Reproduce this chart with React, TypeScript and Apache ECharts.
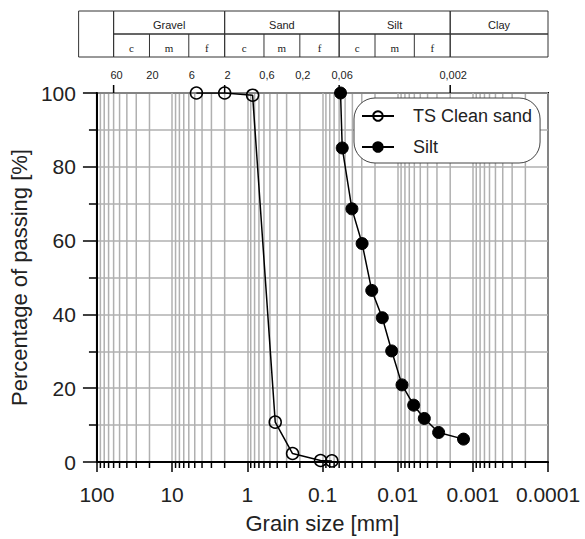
import React, { useEffect, useRef } from "react";
import * as echarts from "echarts";

// ---- data ----
const xTickLabels = ["100", "10", "1", "0.1", "0.01", "0.001", "0.0001"];
const sandSize = [4.75, 2, 0.85, 0.425, 0.25, 0.106, 0.075];
const sandPass = [100, 100, 99.4, 10.8, 2.3, 0.4, 0.3];
const siltSize = [0.0575, 0.0546, 0.0406, 0.0297, 0.0221, 0.016, 0.012, 0.00875, 0.00612, 0.00442, 0.00285, 0.00133];
const siltPass = [100, 85.1, 68.6, 59.2, 46.5, 39.1, 30.1, 20.9, 15.4, 11.8, 8.0, 6.2];

const topTickValues = [60, 20, 6, 2, 0.6, 0.2, 0.06, 0.002];
const topTickLabels = ["60", "20", "6", "2", "0,6", "0,2", "0,06", "0,002"];
const topTickMarks = [60, 2, 0.06, 0.002];

const classBounds = [60, 2, 0.06, 0.002, 0.0001];
const classNames = ["Gravel", "Sand", "Silt", "Clay"];
const subBounds = [
  [60, 20, 6, 2],
  [2, 0.6, 0.2, 0.06],
  [0.06, 0.02, 0.006, 0.002],
  [],
];
const subNames = ["c", "m", "f"];

const decadeExps = [-4, -3, -2, -1, 0, 1];
const minorMultipliers = [2, 3, 4, 5, 6, 7, 8, 9];

const FONT = '"Liberation Sans", Arial, sans-serif';
const SERIF = '"Liberation Serif", "Times New Roman", serif';

export default function App() {
  const ref = useRef<HTMLDivElement>(null);

  useEffect(() => {
    if (!ref.current) return;
    const chart = echarts.init(ref.current, undefined, { renderer: "svg" });

    const minorValues: number[][] = [];
    decadeExps.forEach((e) => {
      minorMultipliers.forEach((m) => {
        minorValues.push([m * Math.pow(10, e), 50]);
      });
    });

    const gridRender = (_params: any, api: any) => {
      const v = api.value(0);
      const p0 = api.coord([v, 0]);
      const p1 = api.coord([v, 100]);
      return {
        type: "group",
        children: [
          {
            type: "line",
            shape: { x1: p0[0], y1: p1[1] + 1, x2: p0[0], y2: p0[1] - 1 },
            style: { stroke: "#b0b0b0", lineWidth: 1.5 },
          },
          {
            type: "line",
            shape: { x1: p0[0], y1: p0[1], x2: p0[0], y2: p0[1] + 6 },
            style: { stroke: "#000", lineWidth: 1.5 },
          },
        ],
      };
    };

    const topRender = (_params: any, api: any) => {
      const X = (v: number) => api.coord([v, 100])[0];
      const yTop = api.coord([1, 100])[1];
      const rowTop = 11;
      const rowMid = 34;
      const rowBot = 57;
      const children: any[] = [];
      const x60 = X(classBounds[0]);
      children.push({
        type: "rect",
        shape: { x: x60 - 35, y: rowTop, width: 35, height: rowBot - rowTop },
        style: { fill: "none", stroke: "#333", lineWidth: 1 },
      });
      for (let i = 0; i < classNames.length; i++) {
        const x0 = X(classBounds[i]);
        const x1 = X(classBounds[i + 1]);
        children.push({
          type: "rect",
          shape: { x: x0, y: rowTop, width: x1 - x0, height: rowMid - rowTop },
          style: { fill: "none", stroke: "#333", lineWidth: 1 },
        });
        children.push({
          type: "rect",
          shape: { x: x0, y: rowMid, width: x1 - x0, height: rowBot - rowMid },
          style: { fill: "none", stroke: "#333", lineWidth: 1 },
        });
        children.push({
          type: "text",
          style: {
            text: classNames[i],
            x: (x0 + x1) / 2,
            y: 25,
            align: "center",
            verticalAlign: "middle",
            font: `11px ${FONT}`,
            fill: "#222",
          },
        });
        const sb = subBounds[i];
        for (let j = 0; j + 1 < sb.length; j++) {
          const s0 = X(sb[j]);
          const s1 = X(sb[j + 1]);
          if (j > 0) {
            children.push({
              type: "line",
              shape: { x1: s0, y1: rowMid, x2: s0, y2: rowBot },
              style: { stroke: "#333", lineWidth: 1 },
            });
          }
          children.push({
            type: "text",
            style: {
              text: subNames[j],
              x: (s0 + s1) / 2,
              y: 48,
              align: "center",
              verticalAlign: "middle",
              font: `11px ${SERIF}`,
              fill: "#222",
            },
          });
        }
      }
      topTickMarks.forEach((v) => {
        const x = X(v);
        children.push({
          type: "line",
          shape: { x1: x, y1: yTop, x2: x, y2: yTop - 8 },
          style: { stroke: "#000", lineWidth: 1.5 },
        });
      });
      topTickValues.forEach((v, i) => {
        children.push({
          type: "text",
          style: {
            text: topTickLabels[i],
            x: X(v) + 3,
            y: 75,
            align: "center",
            verticalAlign: "middle",
            font: `11px ${FONT}`,
            fill: "#222",
          },
        });
      });
      return { type: "group", children };
    };

    const option: any = {
      animation: false,
      backgroundColor: "#fff",
      grid: {
        left: 95,
        right: 37,
        top: 93,
        bottom: 76,
        show: true,
        borderColor: "#000",
        borderWidth: 2,
        containLabel: false,
      },
      legend: {
        orient: "vertical",
        left: 354,
        top: 98,
        data: ["TS Clean sand", "Silt"],
        itemWidth: 32,
        itemHeight: 12,
        itemGap: 13,
        padding: [9, 8, 7, 7],
        borderColor: "#444",
        borderWidth: 1,
        borderRadius: 21,
        backgroundColor: "#fff",
        textStyle: { fontSize: 18, fontFamily: FONT, color: "#222", padding: [0, 0, 0, 14] },
      },
      xAxis: {
        type: "log",
        logBase: 10,
        min: 0.0001,
        max: 100,
        inverse: true,
        name: "Grain size [mm]",
        nameLocation: "middle",
        nameGap: 50,
        nameTextStyle: { fontSize: 22, fontFamily: FONT, color: "#222" },
        axisLine: { show: true, lineStyle: { color: "#000", width: 2 } },
        axisTick: { show: true, length: 10, lineStyle: { color: "#000", width: 1.5 } },
        axisLabel: {
          show: true,
          interval: 0,
          showMinLabel: true,
          showMaxLabel: true,
          margin: 22,
          fontSize: 21,
          fontFamily: FONT,
          color: "#222",
          formatter: (v: number) => {
            const e = Math.round(Math.log10(v));
            return xTickLabels[2 - e] ?? "";
          },
        },
        splitLine: { show: true, lineStyle: { color: "#b0b0b0", width: 1.5 } },
      },
      yAxis: {
        type: "value",
        min: 0,
        max: 100,
        interval: 20,
        name: "Percentage of passing [%]",
        nameLocation: "middle",
        nameGap: 62,
        nameTextStyle: { fontSize: 22, fontFamily: FONT, color: "#222" },
        axisLine: { show: true, lineStyle: { color: "#000", width: 2 } },
        axisTick: { show: true, length: 14, lineStyle: { color: "#000", width: 1.5 } },
        minorTick: { show: true, splitNumber: 2, length: 8, lineStyle: { color: "#000", width: 1.5 } },
        axisLabel: { margin: 21, fontSize: 21, fontFamily: FONT, color: "#222" },
        splitLine: { show: true, lineStyle: { color: "#b0b0b0", width: 1.5 } },
        minorSplitLine: { show: true, lineStyle: { color: "#b0b0b0", width: 1.5 } },
      },
      series: [
        {
          type: "custom",
          name: "minorGrid",
          z: 1,
          clip: false,
          silent: true,
          renderItem: gridRender,
          encode: { x: 0, y: 1 },
          data: minorValues,
        },
        {
          type: "custom",
          name: "classTable",
          z: 1,
          clip: false,
          silent: true,
          renderItem: topRender,
          encode: { x: 0, y: 1 },
          data: [[1, 100]],
        },
        {
          type: "line",
          name: "TS Clean sand",
          z: 3,
          data: sandSize.map((s, i) => [s, sandPass[i]]),
          symbol: "circle",
          symbolSize: 12,
          lineStyle: { color: "#000", width: 1.5 },
          itemStyle: { color: "rgba(255,255,255,0)", borderColor: "#000", borderWidth: 1.5 },
        },
        {
          type: "line",
          name: "Silt",
          z: 3,
          data: siltSize.map((s, i) => [s, siltPass[i]]),
          symbol: "circle",
          symbolSize: 12,
          lineStyle: { color: "#000", width: 1.5 },
          itemStyle: { color: "#000", borderColor: "#000", borderWidth: 1 },
        },
      ],
    };

    chart.setOption(option);
    return () => {
      chart.dispose();
    };
  }, []);

  return (
    <div
      ref={ref}
      style={{ position: "absolute", left: 0, top: 0, width: 585, height: 539 }}
    />
  );
}
